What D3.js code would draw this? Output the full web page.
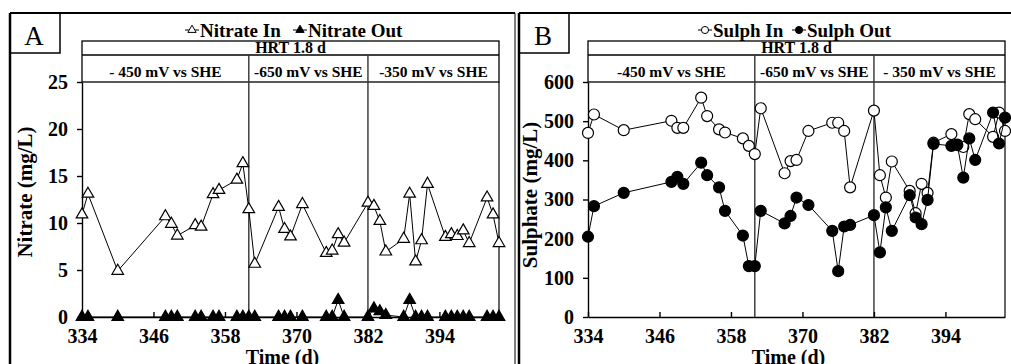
<!DOCTYPE html>
<html>
<head>
<meta charset="utf-8">
<script src="https://cdn.jsdelivr.net/npm/d3@7"></script>
<style>
  body { margin: 0; background: #fff; }
  svg text { font-family: "Liberation Serif", "Times New Roman", serif; font-weight: bold; fill: #000; }
</style>
</head>
<body>
<svg id="chart" width="1011" height="364"></svg>
<script>
// sampling days (same for every series)
const days = [334, 335, 340, 348, 349, 350, 353, 354, 356, 357, 360, 361, 362, 363,
  367, 368, 369, 371, 375, 376, 377, 378, 382, 383, 384, 385, 388, 389, 390, 391,
  392, 395, 396, 397, 398, 399, 402, 403, 404];

const nitrateIn = [10.9, 13.1, 4.9, 10.7, 9.9, 8.65, 9.75, 9.6, 13.05, 13.5, 14.6, 16.35, 11.45, 5.65,
  11.7, 9.35, 8.55, 12.0, 6.8, 7.05, 8.8, 7.9, 12.15, 11.8, 10.2, 6.95, 8.3, 13.1, 5.9, 8.15,
  14.15, 8.5, 8.8, 8.6, 9.2, 7.85, 12.7, 10.9, 7.85];
const nitrateOut = [0, 0, 0, 0, 0, 0, 0, 0, 0, 0, 0, 0, 0, 0,
  0, 0, 0, 0, 0, 0, 1.8, 0, 0, 0.9, 0.6, 0.2, 0, 1.8, 0, 0,
  0, 0, 0, 0, 0, 0, 0, 0, 0];

const sulphIn = [470, 517, 477, 501, 483, 483, 560, 513, 479, 471, 456, 437, 416, 533,
  367, 398, 401, 475, 496, 496, 475, 331, 527, 362, 305, 397, 322, 265, 340, 317,
  445, 467, 440, 434, 518, 505, 460, 522, 475];
const sulphOut = [205, 283, 317, 345, 358, 340, 394, 362, 331, 271, 208, 130, 130, 271,
  239, 258, 305, 286, 220, 117, 231, 235, 260, 165, 280, 220, 311, 254, 237, 299,
  442, 437, 439, 356, 456, 401, 522, 443, 509];

const xTicks = [334, 346, 358, 370, 382, 394];
const nitrateTicks = [0, 5, 10, 15, 20, 25];
const sulphTicks = [0, 100, 200, 300, 400, 500, 600];
const phaseBreaks = [362, 382];
const labelsA = ["- 450 mV vs SHE", "-650 mV vs SHE", "-350 mV vs SHE"];
const labelsB = ["-450 mV vs SHE", "-650 mV vs SHE", "- 350 mV vs SHE"];

const svg = d3.select("#chart");
const plotTop = 82, plotBottom = 317;

function drawPanel(p) {
  const g = svg.append("g");
  const x = d3.scaleLinear().domain([334, 404]).range([p.left, p.right]);
  const y = d3.scaleLinear().domain([0, p.ymax]).range([plotBottom, plotTop]);

  // outer frame
  g.append("line").attr("x1", p.frameL).attr("x2", p.frameL).attr("y1", 13).attr("y2", 364)
    .attr("stroke", "#000").attr("stroke-width", 2.5);
  g.append("line").attr("x1", p.frameL).attr("x2", p.frameR).attr("y1", 13).attr("y2", 13)
    .attr("stroke", "#000").attr("stroke-width", 2);
  if (p.frameRightLine) {
    g.append("line").attr("x1", p.frameR).attr("x2", p.frameR).attr("y1", 13).attr("y2", 364)
      .attr("stroke", "#000").attr("stroke-width", 1);
  }
  // letter box
  g.append("path")
    .attr("d", `M${p.frameL},53H${p.frameL + 50}V13`)
    .attr("fill", "none").attr("stroke", "#000").attr("stroke-width", 1.5);
  g.append("text").attr("x", p.frameL + 24).attr("y", 45).attr("text-anchor", "middle")
    .style("font-weight", "normal").style("font-size", "27px").text(p.letter);

  // legend
  const lg = g.append("g");
  p.legend.forEach((l, i) => {
    lg.append("line").attr("x1", l.mx - 7).attr("x2", l.mx + 7).attr("y1", 30).attr("y2", 30)
      .attr("stroke", "#000").attr("stroke-width", 1);
    lg.append("path").attr("transform", `translate(${l.mx},30)`)
      .attr("d", d3.symbol(p.symbol, p.legendSize)())
      .attr("fill", i === 0 ? "#fff" : "#000").attr("stroke", "#000").attr("stroke-width", 1);
    lg.append("text").attr("x", l.mx + 8).attr("y", 37).style("font-size", "19px").text(l.text);
  });

  // header boxes
  g.append("rect").attr("x", p.left).attr("y", 41).attr("width", p.right - p.left).attr("height", plotTop - 41)
    .attr("fill", "none").attr("stroke", "#000").attr("stroke-width", 1.3);
  g.append("line").attr("x1", p.left).attr("x2", p.right).attr("y1", 55).attr("y2", 55)
    .attr("stroke", "#000").attr("stroke-width", 1.3);
  g.append("text").attr("x", (p.left + p.right) / 2).attr("y", 53).attr("text-anchor", "middle")
    .style("font-size", "16px").text("HRT 1.8 d");
  const edges = [334, ...phaseBreaks, 404];
  p.phases.forEach((t, i) => {
    g.append("text").attr("x", (x(edges[i]) + x(edges[i + 1])) / 2).attr("y", 77)
      .attr("text-anchor", "middle").style("font-size", "15.5px").text(t);
  });
  phaseBreaks.forEach(d => {
    g.append("line").attr("x1", x(d)).attr("x2", x(d)).attr("y1", 55).attr("y2", plotBottom)
      .attr("stroke", "#333").attr("stroke-width", 1.4);
  });
  // right border of plot
  g.append("line").attr("x1", p.right).attr("x2", p.right).attr("y1", plotTop).attr("y2", plotBottom)
    .attr("stroke", "#000").attr("stroke-width", 1.2);

  // axes
  const ax = g.append("g").attr("transform", `translate(0,${plotBottom})`)
    .call(d3.axisBottom(x).tickValues(xTicks).tickSizeInner(-5).tickSizeOuter(0).tickPadding(12));
  const ay = g.append("g").attr("transform", `translate(${p.left},0)`)
    .call(d3.axisLeft(y).tickValues(p.yTicks).tickSizeInner(5).tickSizeOuter(0).tickPadding(9));
  [ax, ay].forEach(a => {
    a.selectAll("text").style("font-size", "20px").attr("fill", "#000");
    a.selectAll("line, path").attr("stroke", "#000").attr("stroke-width", 1.4);
  });

  g.append("text").attr("x", (p.left + p.right) / 2 - 8).attr("y", 364).attr("text-anchor", "middle")
    .style("font-size", "20px").text("Time (d)");
  g.append("text").attr("transform", `translate(${p.titleX},${p.titleY}) rotate(-90)`)
    .attr("text-anchor", "middle").style("font-size", "21px").text(p.yTitle);

  // series
  const line = d3.line().x(d => x(d[0])).y(d => y(d[1]));
  p.series.forEach((s, i) => {
    const pts = days.map((d, j) => [d, s[j]]);
    g.append("path").datum(pts).attr("d", line)
      .attr("fill", "none").attr("stroke", "#000").attr("stroke-width", 1);
    g.selectAll(null).data(pts).enter().append("path")
      .attr("transform", d => `translate(${x(d[0])},${y(d[1])})`)
      .attr("d", d3.symbol(p.symbol, p.size)())
      .attr("fill", i === 0 ? "#fff" : "#000").attr("stroke", "#000").attr("stroke-width", 1.2);
  });
}

drawPanel({
  left: 82, right: 499, frameL: 10, frameR: 515, frameRightLine: true, letter: "A",
  ymax: 25, yTicks: nitrateTicks, yTitle: "Nitrate (mg/L)", titleX: 32, titleY: 192,
  symbol: d3.symbolTriangle, size: 58, legendSize: 30,
  legend: [{ mx: 192, text: "Nitrate In" }, { mx: 300, text: "Nitrate Out" }],
  phases: labelsA, series: [nitrateIn, nitrateOut]
});
drawPanel({
  left: 588, right: 1005, frameL: 519, frameR: 1011, frameRightLine: false, letter: "B",
  ymax: 600, yTicks: sulphTicks, yTitle: "Sulphate (mg/L)", titleX: 537, titleY: 195,
  symbol: d3.symbolCircle, size: 95, legendSize: 40,
  legend: [{ mx: 705, text: "Sulph In" }, { mx: 799, text: "Sulph Out" }],
  phases: labelsB, series: [sulphIn, sulphOut]
});
</script>
</body>
</html>
